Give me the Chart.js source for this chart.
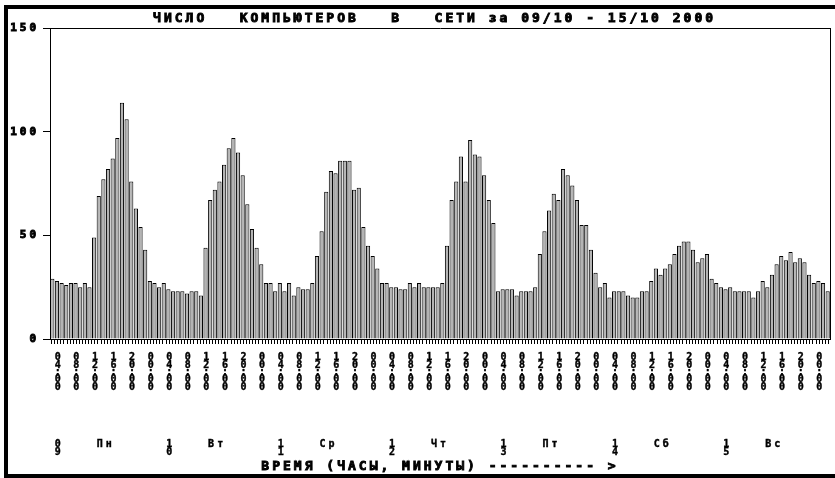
<!DOCTYPE html>
<html><head><meta charset="utf-8">
<script src="https://cdn.jsdelivr.net/npm/chart.js@4.4.1/dist/chart.umd.min.js"></script>
<style>
html,body{margin:0;padding:0;background:#fff;}
#wrap{position:relative;width:835px;height:478px;overflow:hidden;}
canvas{display:block;}
#frame{position:absolute;left:4px;top:5px;width:900px;height:465px;border:4px solid #000;border-right:none;pointer-events:none;}
</style></head><body>
<div id="wrap"><canvas id="c" width="835" height="478"></canvas><div id="frame"></div></div>
<script>
// hourly counts, one array per day (00:00 .. 23:00)
const mon = [29, 28, 27, 26, 27, 27, 25, 27, 25, 49, 69, 77, 82, 87, 97, 114, 106, 76, 63, 54, 43, 28, 27, 25];
const tue = [27, 24, 23, 23, 23, 22, 23, 23, 21, 44, 67, 72, 76, 84, 92, 97, 90, 79, 65, 53, 44, 36, 27, 27];
const wed = [23, 27, 23, 27, 21, 25, 24, 24, 27, 40, 52, 71, 81, 80, 86, 86, 86, 72, 73, 54, 45, 40, 34, 27];
const thu = [27, 25, 25, 24, 24, 27, 25, 27, 25, 25, 25, 25, 27, 45, 67, 76, 88, 76, 96, 89, 88, 79, 67, 56];
const fri = [23, 24, 24, 24, 21, 23, 23, 23, 25, 41, 52, 62, 70, 67, 82, 79, 74, 67, 55, 55, 43, 32, 25, 27];
const sat = [20, 23, 23, 23, 21, 20, 20, 23, 23, 28, 34, 31, 34, 36, 41, 45, 47, 47, 43, 37, 39, 41, 29, 27];
const sun = [25, 24, 25, 23, 23, 23, 23, 20, 23, 28, 25, 31, 36, 40, 38, 42, 37, 39, 37, 31, 27, 28, 27, 23];

const dayNumbers = ['09', '10', '11', '12', '13', '14', '15'];
const weekDays = ['Пн', 'Вт', 'Ср', 'Чт', 'Пт', 'Сб', 'Вс'];
const timeTicks = ['04:00', '08:00', '12:00', '16:00', '20:00', '00:00'];
const yTicks = [0, 50, 100, 150];
const titleText = 'ЧИСЛО   КОМПЬЮТЕРОВ   В   СЕТИ за 09/10 - 15/10 2000 ';
const xTitleText = 'ВРЕМЯ (ЧАСЫ, МИНУТЫ) ---------- >';

const week = [mon, tue, wed, thu, fri, sat, sun];
const values = [].concat(...week);
const hourLabels = [];
week.forEach((d, i) => d.forEach((v, h) => hourLabels.push(dayNumbers[i] + '/10 ' + String(h).padStart(2, '0') + ':00')));

// 4-hour labels, stacked one character per line
const timeLabels = [];
dayNumbers.forEach(() => timeTicks.forEach(t => timeLabels.push(t.split(''))));

// day row: 85 slots (2-hour steps) -> day number and weekday
const dayLabels = [];
for (let j = 0; j <= 84; j++) dayLabels.push('');
dayNumbers.forEach((d, i) => {
  dayLabels[12 * i + 1] = d.split('');
  dayLabels[12 * i + 6] = weekDays[i];
});
const markSlots = [];
for (let j = 0; j <= 252; j++) markSlots.push('');

const FONT = 'DejaVu Sans Mono';
const spacing = {
  id: 'spacing',
  beforeDraw(chart) { chart.ctx.letterSpacing = '3px'; }
};
const bold = (size, lh) => ({ family: FONT, size: size, weight: 'bold', lineHeight: lh });
const txt = (size, lh, pad, stroke) => ({
  autoSkip: false, maxRotation: 0, minRotation: 0, padding: pad, color: '#000',
  textStrokeWidth: stroke, textStrokeColor: '#000', font: bold(size, lh)
});
const fixH = h => function (s) { s.height = h; s.paddingLeft = 0; s.paddingRight = 0; s.paddingTop = 0; s.paddingBottom = 0; };

new Chart(document.getElementById('c'), {
  type: 'bar',
  data: {
    labels: hourLabels,
    datasets: [{
      data: values,
      xAxisID: 'x', yAxisID: 'y',
      backgroundColor: '#b4b4b4',
      borderColor: '#000',
      borderWidth: 1,
      barPercentage: 0.9,
      categoryPercentage: 1
    }]
  },
  options: {
    responsive: false,
    devicePixelRatio: 1,
    animation: false,
    layout: { padding: 0 },
    plugins: { legend: { display: false }, tooltip: { enabled: false }, title: { display: false } },
    scales: {
      x: { type: 'category', display: false, offset: true, grid: { display: false } },
      xt: {
        type: 'category', labels: markSlots, position: 'bottom', weight: 0, offset: false,
        ticks: { display: false, autoSkip: false },
        grid: { drawOnChartArea: false, tickLength: 5, color: '#000', lineWidth: 1 },
        border: { display: true, color: '#000', width: 1 },
        afterFit: fixH(6)
      },
      xl: {
        type: 'category', labels: timeLabels, position: 'bottom', weight: 1, offset: true,
        ticks: txt(10, 0.74, 9, 0.4),
        grid: { display: false, drawTicks: false }, border: { display: false },
        afterFit: fixH(50)
      },
      xd: {
        type: 'category', labels: dayLabels, position: 'bottom', weight: 2, offset: false,
        ticks: txt(10, 0.76, 46, 0.4),
        grid: { display: false, drawTicks: false }, border: { display: false },
        afterFit: fixH(64)
      },
      xa: {
        type: 'category', labels: [xTitleText], position: 'bottom', weight: 3, offset: true,
        ticks: txt(13, 1.2, 0, 0.9),
        grid: { display: false, drawTicks: false }, border: { display: false },
        afterFit: fixH(19)
      },
      xtop: {
        type: 'category', labels: [titleText], position: 'top', offset: true,
        ticks: txt(13, 1.2, 2, 0.9),
        grid: { display: false, drawTicks: false },
        border: { display: true, color: '#000', width: 1 },
        afterFit: fixH(28)
      },
      y: {
        type: 'linear', min: 0, max: 150,
        afterBuildTicks(s) { s.ticks = yTicks.map(v => ({ value: v })); },
        ticks: { padding: 4, color: '#000', textStrokeWidth: 0.9, textStrokeColor: '#000', font: bold(11, 1.2) },
        grid: { drawOnChartArea: false, tickLength: 7, color: '#000' },
        border: { display: true, color: '#000', width: 1 },
        afterFit(s) { s.width = 50; s.paddingTop = 0; s.paddingBottom = 0; }
      },
      yr: {
        type: 'linear', position: 'right', min: 0, max: 150,
        ticks: { display: false }, grid: { display: false },
        border: { display: true, color: '#000', width: 1 },
        afterFit(s) { s.width = 5; s.paddingTop = 0; s.paddingBottom = 0; }
      }
    }
  },
  plugins: [spacing]
});
</script>
</body></html>
